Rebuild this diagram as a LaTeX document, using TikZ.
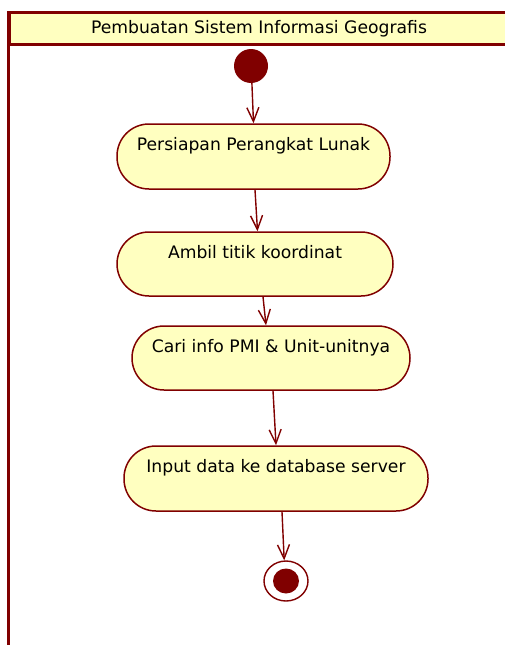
\documentclass[tikz,border=0pt]{standalone}
\usepackage{fontspec}
\setmainfont{DejaVu Sans}
\usetikzlibrary{arrows.meta,shapes.geometric}
\definecolor{umlred}{HTML}{800000}
\definecolor{umlfill}{HTML}{FFFFC0}
\begin{document}
\begin{tikzpicture}[x=1pt,y=-1pt,
  font=\fontsize{17.2}{20}\selectfont,
  act/.style={draw=umlred, fill=umlfill, line width=1.5pt,
    rounded corners=32pt, inner sep=0pt, text height=26pt},
  flow/.style={draw=umlred, line width=1.4pt,
    -{Straight Barb[length=14pt,width=12pt]}}]
\useasboundingbox (0,0) rectangle (504,645);

% partition header and frame
\node[draw=umlred, fill=umlfill, line width=2.6pt, anchor=north west,
      minimum width=520, minimum height=32, inner sep=0pt] (head) at (8.3,11.3) {};
\node (title) at (259,29) {Pembuatan Sistem Informasi Geografis};
\coordinate (frameend) at (8.3,650);
\draw[umlred, line width=2.8pt] (head.north west) -- (frameend);

% initial and final states
\node[circle, fill=umlred, minimum size=34, inner sep=0pt] (start) at (251,66) {};
\node[ellipse, draw=umlred, line width=1.4pt, minimum width=44, minimum height=40,
      inner sep=0pt] (end) at (286,581) {};
\node[ellipse, fill=umlred, minimum width=26, minimum height=25, inner sep=0pt]
      (endin) at (end.center) {};

% activities
\node[act, minimum width=273, text depth=39pt] (n1) at (253.5,156.5) {Persiapan Perangkat Lunak};
\node[act, minimum width=276, text depth=38pt] (n2) at (255,264) {Ambil titik koordinat};
\node[act, minimum width=278, text depth=38pt] (n3) at (271,358) {Cari info PMI \& Unit-unitnya};
\node[act, minimum width=304, text depth=39pt] (n4) at (276,478.5) {Input data ke database server};

% control flows
\draw[flow] (start.-87) -- (n1.north);
\draw[flow] ([xshift=1.5pt]n1.south) -- ([xshift=2.5pt]n2.north);
\draw[flow] ([xshift=8pt]n2.south) -- ([xshift=-5pt]n3.north);
\draw[flow] ([xshift=2pt]n3.south) -- (n4.north);
\draw[flow] ([xshift=6pt]n4.south) -- (end.95);
\end{tikzpicture}
\end{document}
